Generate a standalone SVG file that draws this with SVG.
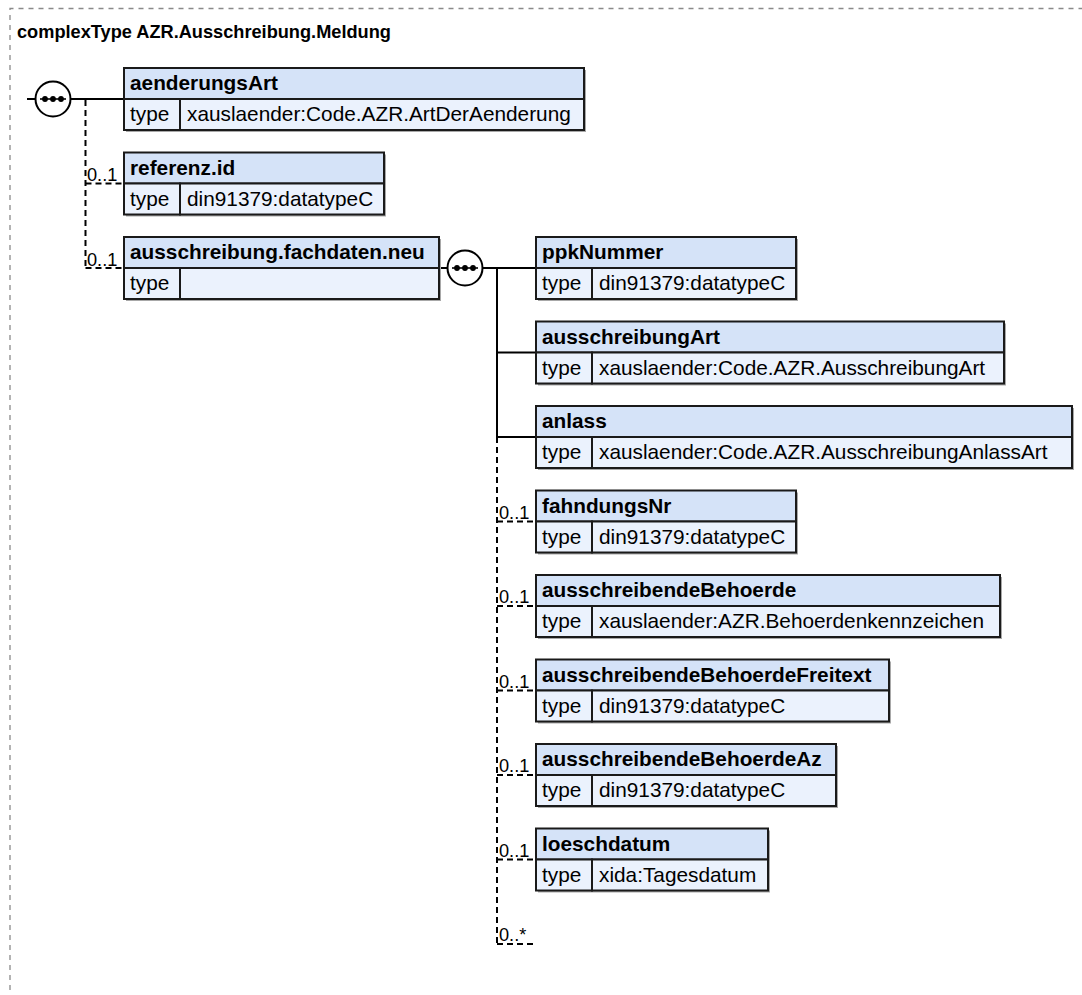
<svg xmlns="http://www.w3.org/2000/svg" width="1082" height="995" viewBox="0 0 1082 995">
<style>
.frame{fill:none;stroke:#8a8a8a;stroke-width:1.3;stroke-dasharray:5 5}
.title{font-family:"Liberation Sans",Arial,sans-serif;font-weight:bold;font-size:18.2px;fill:#000}
.hd{fill:#d5e3f8;stroke:#1a1a1a;stroke-width:2}
.rw{fill:#ebf2fd;stroke:#1a1a1a;stroke-width:2}
.sh{fill:#a8a8a8}
.hn{font-family:"Liberation Sans",Arial,sans-serif;font-weight:bold;font-size:20.8px;fill:#000}
.tv{font-family:"Liberation Sans",Arial,sans-serif;font-size:20.8px;fill:#000}
.card{font-family:"Liberation Sans",Arial,sans-serif;font-size:18.2px;fill:#000}
.ln{fill:none;stroke:#000;stroke-width:2}
.dl{fill:none;stroke:#000;stroke-width:2;stroke-dasharray:6 4}
.seq{fill:#fff;stroke:#000;stroke-width:2}
</style>
<defs>
<g id="seqsym">
<circle class="seq" cx="0" cy="0" r="17.5"/>
<line x1="-13" y1="0" x2="13" y2="0" stroke="#000" stroke-width="1.6"/>
<circle cx="-8" cy="0" r="2.9" fill="#000"/>
<circle cx="0" cy="0" r="2.9" fill="#000"/>
<circle cx="8" cy="0" r="2.9" fill="#000"/>
</g>
</defs>
<rect x="0" y="0" width="1082" height="995" fill="#fff"/>
<path class="frame" d="M10,1000 L10,8.5 L1090,8.5"/>
<text class="title" x="17" y="38">complexType AZR.Ausschreibung.Meldung</text>

<g id="connectors">
<line class="ln" x1="27" y1="99" x2="36" y2="99"/>
<line class="ln" x1="70" y1="99" x2="124" y2="99"/>
<path class="dl" d="M85.5,100 L85.5,268"/>
<path class="dl" d="M85.5,183.5 L124,183.5"/>
<path class="dl" d="M85.5,268 L124,268"/>
<text class="card" x="87" y="181">0..1</text>
<text class="card" x="87" y="265.5">0..1</text>
<line class="ln" x1="439" y1="268" x2="448" y2="268"/>
<line class="ln" x1="482" y1="268" x2="536" y2="268"/>
<path class="ln" d="M497,268 L497,437"/>
<path class="ln" d="M497,352.5 L536,352.5"/>
<path class="ln" d="M497,437 L536,437"/>
<path class="dl" d="M497,437 L497,944"/>
<path class="dl" d="M497,521.5 L536,521.5"/>
<path class="dl" d="M497,606 L536,606"/>
<path class="dl" d="M497,690.5 L536,690.5"/>
<path class="dl" d="M497,775 L536,775"/>
<path class="dl" d="M497,859.5 L536,859.5"/>
<path class="dl" d="M497,944 L533,944"/>
<text class="card" x="499" y="518.5">0..1</text>
<text class="card" x="499" y="603">0..1</text>
<text class="card" x="499" y="687.5">0..1</text>
<text class="card" x="499" y="772">0..1</text>
<text class="card" x="499" y="856.5">0..1</text>
<text class="card" x="499" y="941">0..*</text>
</g>

<g id="seq1"><use href="#seqsym" x="53" y="99"/></g>
<g id="seq2"><use href="#seqsym" x="465" y="268"/></g>

<g id="aenderungsArt">
<rect class="sh" x="126" y="70" width="460" height="62"/>
<rect class="hd" x="124" y="68" width="460" height="31"/>
<rect class="rw" x="124" y="99" width="56" height="31"/>
<rect class="rw" x="180" y="99" width="404" height="31"/>
<text class="hn" x="130" y="90">aenderungsArt</text>
<text class="tv" x="130" y="121">type</text>
<text class="tv" x="187" y="121">xauslaender:Code.AZR.ArtDerAenderung</text>
</g>

<g id="referenz.id">
<rect class="sh" x="126" y="154.5" width="260" height="62"/>
<rect class="hd" x="124" y="152.5" width="260" height="31"/>
<rect class="rw" x="124" y="183.5" width="56" height="31"/>
<rect class="rw" x="180" y="183.5" width="204" height="31"/>
<text class="hn" x="130" y="174.5">referenz.id</text>
<text class="tv" x="130" y="205.5">type</text>
<text class="tv" x="187" y="205.5">din91379:datatypeC</text>
</g>

<g id="ausschreibung.fachdaten.neu">
<rect class="sh" x="126" y="239" width="315" height="62"/>
<rect class="hd" x="124" y="237" width="315" height="31"/>
<rect class="rw" x="124" y="268" width="56" height="31"/>
<rect class="rw" x="180" y="268" width="259" height="31"/>
<text class="hn" x="130" y="259">ausschreibung.fachdaten.neu</text>
<text class="tv" x="130" y="290">type</text>
</g>

<g id="ppkNummer">
<rect class="sh" x="538" y="239" width="260" height="62"/>
<rect class="hd" x="536" y="237" width="260" height="31"/>
<rect class="rw" x="536" y="268" width="56" height="31"/>
<rect class="rw" x="592" y="268" width="204" height="31"/>
<text class="hn" x="542" y="259">ppkNummer</text>
<text class="tv" x="542" y="290">type</text>
<text class="tv" x="599" y="290">din91379:datatypeC</text>
</g>

<g id="ausschreibungArt">
<rect class="sh" x="538" y="323.5" width="468" height="62"/>
<rect class="hd" x="536" y="321.5" width="468" height="31"/>
<rect class="rw" x="536" y="352.5" width="56" height="31"/>
<rect class="rw" x="592" y="352.5" width="412" height="31"/>
<text class="hn" x="542" y="343.5">ausschreibungArt</text>
<text class="tv" x="542" y="374.5">type</text>
<text class="tv" x="599" y="374.5">xauslaender:Code.AZR.AusschreibungArt</text>
</g>

<g id="anlass">
<rect class="sh" x="538" y="408" width="536" height="62"/>
<rect class="hd" x="536" y="406" width="536" height="31"/>
<rect class="rw" x="536" y="437" width="56" height="31"/>
<rect class="rw" x="592" y="437" width="480" height="31"/>
<text class="hn" x="542" y="428">anlass</text>
<text class="tv" x="542" y="459">type</text>
<text class="tv" x="599" y="459">xauslaender:Code.AZR.AusschreibungAnlassArt</text>
</g>

<g id="fahndungsNr">
<rect class="sh" x="538" y="492.5" width="260" height="62"/>
<rect class="hd" x="536" y="490.5" width="260" height="31"/>
<rect class="rw" x="536" y="521.5" width="56" height="31"/>
<rect class="rw" x="592" y="521.5" width="204" height="31"/>
<text class="hn" x="542" y="512.5">fahndungsNr</text>
<text class="tv" x="542" y="543.5">type</text>
<text class="tv" x="599" y="543.5">din91379:datatypeC</text>
</g>

<g id="ausschreibendeBehoerde">
<rect class="sh" x="538" y="577" width="464" height="62"/>
<rect class="hd" x="536" y="575" width="464" height="31"/>
<rect class="rw" x="536" y="606" width="56" height="31"/>
<rect class="rw" x="592" y="606" width="408" height="31"/>
<text class="hn" x="542" y="597">ausschreibendeBehoerde</text>
<text class="tv" x="542" y="628">type</text>
<text class="tv" x="599" y="628">xauslaender:AZR.Behoerdenkennzeichen</text>
</g>

<g id="ausschreibendeBehoerdeFreitext">
<rect class="sh" x="538" y="661.5" width="353" height="62"/>
<rect class="hd" x="536" y="659.5" width="353" height="31"/>
<rect class="rw" x="536" y="690.5" width="56" height="31"/>
<rect class="rw" x="592" y="690.5" width="297" height="31"/>
<text class="hn" x="542" y="681.5">ausschreibendeBehoerdeFreitext</text>
<text class="tv" x="542" y="712.5">type</text>
<text class="tv" x="599" y="712.5">din91379:datatypeC</text>
</g>

<g id="ausschreibendeBehoerdeAz">
<rect class="sh" x="538" y="746" width="300" height="62"/>
<rect class="hd" x="536" y="744" width="300" height="31"/>
<rect class="rw" x="536" y="775" width="56" height="31"/>
<rect class="rw" x="592" y="775" width="244" height="31"/>
<text class="hn" x="542" y="766">ausschreibendeBehoerdeAz</text>
<text class="tv" x="542" y="797">type</text>
<text class="tv" x="599" y="797">din91379:datatypeC</text>
</g>

<g id="loeschdatum">
<rect class="sh" x="538" y="830.5" width="232" height="62"/>
<rect class="hd" x="536" y="828.5" width="232" height="31"/>
<rect class="rw" x="536" y="859.5" width="56" height="31"/>
<rect class="rw" x="592" y="859.5" width="176" height="31"/>
<text class="hn" x="542" y="850.5">loeschdatum</text>
<text class="tv" x="542" y="881.5">type</text>
<text class="tv" x="599" y="881.5">xida:Tagesdatum</text>
</g>
</svg>
